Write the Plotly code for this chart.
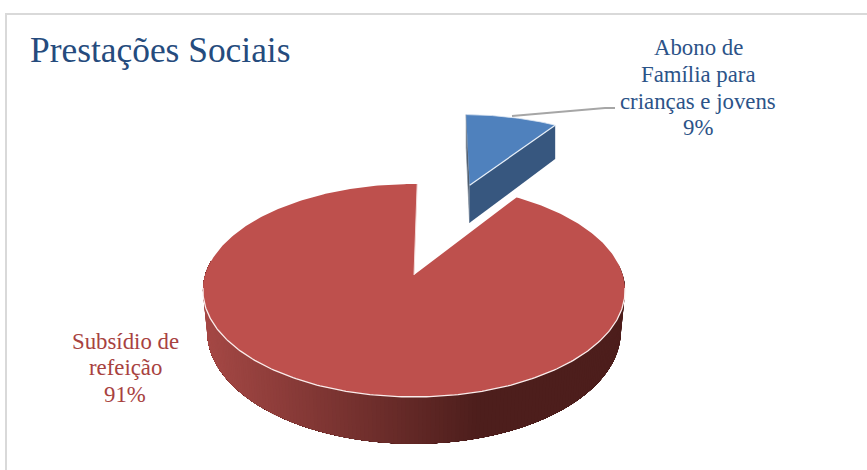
import numpy as np
import plotly.graph_objects as go

# Chart data
categories = [["Abono de", "Família para", "crianças e jovens"], ["Subsídio de", "refeição"]]
shares = [9, 91]

# Colours
TOP_COLOURS = ["#4F81BD", "#BE504D"]
CUT_COLOUR = "#37577F"
TEXT_COLOURS = ["#2C5388", "#A8423F"]
TITLE_COLOUR = "#254B7D"
FRAME_COLOUR = "#D9D9D9"
LEADER_COLOUR = "#A6A6A6"
FONT = "Liberation Serif"

# Projection of the tilted disc onto the canvas
CX, CY = 414.0, 275.0
RX, RY = 208.8, 104.2
PERSPECTIVE = 0.1455
THICKNESS = 40.0
BASE_SHRINK = 0.98
START_DEG = 1.0
EXPLODE = 1.03


def project(u, v, drop=0.0, shrink=1.0):
    """Disc coordinates (u right, v towards the viewer) to canvas x, y."""
    u, v = np.asarray(u, float), np.asarray(v, float)
    s = 1.0 / (1.0 - PERSPECTIVE * v)
    return CX + RX * u * s * shrink, CY + RY * v * s + drop * THICKNESS * s


def rim(deg, du=0.0, dv=0.0):
    rad = np.radians(deg)
    return np.sin(rad) + du, -np.cos(rad) + dv


def blend(a, b, t):
    ca = [int(a[i:i + 2], 16) for i in (1, 3, 5)]
    cb = [int(b[i:i + 2], 16) for i in (1, 3, 5)]
    return "rgb(%d,%d,%d)" % tuple(round(p + (q - p) * t) for p, q in zip(ca, cb))


def poly(fig, xs, ys, fill, line=None, width=0.0):
    fig.add_trace(go.Scatter(
        x=list(xs), y=list(ys), mode="lines", fill="toself", fillcolor=fill,
        line=dict(color=line or fill, width=width), hoverinfo="skip", showlegend=False,
    ))


def stroke(fig, xs, ys, colour, width):
    fig.add_trace(go.Scatter(
        x=list(xs), y=list(ys), mode="lines", line=dict(color=colour, width=width),
        hoverinfo="skip", showlegend=False,
    ))


def add_label(fig, lines, x, first_y, colour):
    for i, text in enumerate(lines):
        fig.add_annotation(x=x, y=first_y + 26.8 * i, text=text, showarrow=False,
                           xanchor="center", yanchor="middle",
                           font=dict(family=FONT, size=22.8, color=colour))


fig = go.Figure()

# Slice angles follow the shares, clockwise from the top
small_sweep = 360.0 * shares[0] / sum(shares)
small_from, small_to = START_DEG, START_DEG + small_sweep
mid = np.radians((small_from + small_to) / 2)
du, dv = EXPLODE * np.sin(mid), -EXPLODE * np.cos(mid)

# Large slice: shaded outer wall, painted as overlapping strips from the right
wall_deg = np.arange(84.0, 278.0, 1.0)
for a in wall_deg:
    sweep = np.linspace(a, 278.0, 2 if a > 270 else 60)
    uw, vw = rim(sweep)
    xt, yt = project(uw, vw)
    xb, yb = project(uw, vw, 1, BASE_SHRINK)
    t = min(1.0, max(0.0, (480.0 - float(xt[0])) / 275.0))
    colour = blend("#4D1E1C", "#A54845", t)
    poly(fig, list(xt) + list(xb[::-1]), list(yt) + list(yb[::-1]), colour)

# Large slice: top face
arc = np.linspace(small_to, 360.0 + small_from, 400)
ur, vr = rim(arc)
xr, yr = project(ur, vr)
xc, yc = project(0.0, 0.0)
poly(fig, [float(xc)] + list(xr) + [float(xc)], [float(yc)] + list(yr) + [float(yc)], TOP_COLOURS[1])

# Pale rim along the front of the large slice
front = np.linspace(97.0, 263.0, 200)
uf, vf = rim(front)
xf, yf = project(uf, vf)
stroke(fig, xf, yf, "#FBEDEC", 1.3)
ue, ve = rim(small_from)
xe, ye = project(ue, ve)
stroke(fig, [float(xc), float(xe)], [float(yc), float(ye)], "#F3D9D8", 1.0)

# Small exploded slice: the two visible cut faces
BLUE_DROP = 1.07
ua, va = rim(small_from, du, dv)
ub, vb = rim(small_to, du, dv)
ax, ay = project(du, dv)
ax2, ay2 = project(du, dv, BLUE_DROP)
sx, sy = project(ua, va)
sx2, sy2 = project(ua, va, BLUE_DROP)
ex, ey = project(ub, vb)
ex2, ey2 = project(ub, vb, BLUE_DROP)
poly(fig, [ax, sx, sx2, ax2, ax], [ay, sy, sy2, ay2, ay], "#3F4C5C", "#8A97A6", 0.8)
poly(fig, [ax, ex, ex2, ax2, ax], [ay, ey, ey2, ay2, ay], CUT_COLOUR)

# Small exploded slice: top face with its pale outline
arc2 = np.linspace(small_from, small_to, 60)
ut, vt = rim(arc2, du, dv)
xt, yt = project(ut, vt)
poly(fig, [float(ax)] + list(xt) + [float(ax)], [float(ay)] + list(yt) + [float(ay)], TOP_COLOURS[0])
stroke(fig, xt, yt, "#DCE6F2", 0.8)
stroke(fig, [float(ax), float(ex)], [float(ay), float(ey)], "#E6EEF7", 1.2)

# Leader line from the small slice to its label
stroke(fig, [512, 605, 615], [116, 108, 108], LEADER_COLOUR, 2)

# Slice labels
add_label(fig, categories[0] + [f"{shares[0]}%"], 698, 47.5, TEXT_COLOURS[0])
add_label(fig, categories[1] + [f"{shares[1]}%"], 125, 341, TEXT_COLOURS[1])

# Title
fig.add_annotation(x=28, y=50, text="Prestações Sociais", showarrow=False, xanchor="left", yanchor="middle",
                   font=dict(family=FONT, size=35.4, color=TITLE_COLOUR))

# Chart frame
fig.add_shape(type="line", x0=5, x1=867, y0=14, y1=14, line=dict(color=FRAME_COLOUR, width=2))
fig.add_shape(type="line", x0=6, x1=6, y0=13, y1=470, line=dict(color=FRAME_COLOUR, width=2))

fig.update_layout(
    width=867, height=470, autosize=False,
    margin=dict(l=0, r=0, t=0, b=0),
    paper_bgcolor="white", plot_bgcolor="white",
    xaxis=dict(range=[0, 867], visible=False, fixedrange=True),
    yaxis=dict(range=[470, 0], visible=False, fixedrange=True),
)
fig.write_html("out.html", config={"displayModeBar": False})
